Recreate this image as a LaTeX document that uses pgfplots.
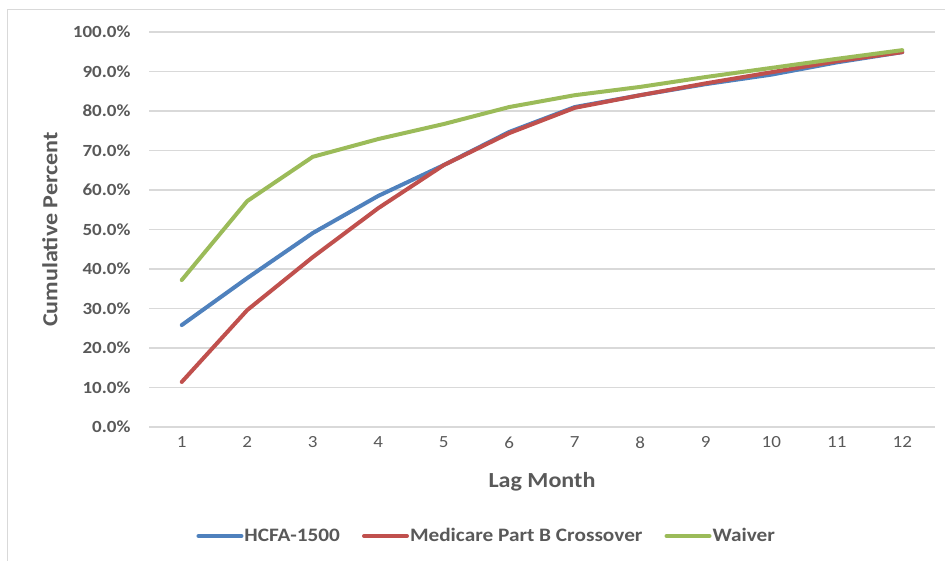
\documentclass[border=0pt]{standalone}
\usepackage{fontspec}
\setmainfont[FakeStretch=1.12]{Carlito}
\usepackage{pgfplots}
\pgfplotsset{compat=1.18}
\definecolor{cblue}{HTML}{4F81BD}
\definecolor{cred}{HTML}{C0504D}
\definecolor{cgreen}{HTML}{9BBB59}
\definecolor{cgrid}{HTML}{D9D9D9}
\definecolor{ctext}{HTML}{595959}
\begin{document}
\begin{tikzpicture}[x=1pt,y=1pt]
\useasboundingbox (0,0) rectangle (945,561);
\draw[cgrid,line width=1pt] (7,0) -- (7,551) -- (945,551);
\begin{axis}[
  at={(149pt,134pt)}, anchor=south west,
  scale only axis, width=786pt, height=395pt,
  xmin=0.5, xmax=12.5, ymin=0, ymax=100,
  xtick={1,...,12}, ytick={0,10,...,100},
  axis line style={draw=none},
  major tick length=0pt,
  ymajorgrids, grid style={cgrid,line width=1.2pt},
  /pgf/number format/assume math mode=true,
  yticklabel={\pgfmathprintnumber[fixed,fixed zerofill,precision=1]{\tick}\%},
  yticklabel style={font=\fontsize{17}{20}\selectfont\bfseries, text=ctext, xshift=-15pt},
  xticklabel style={font=\fontsize{17}{20}\selectfont, text=ctext, yshift=-6pt},
  xlabel={Lag Month}, ylabel={Cumulative Percent},
  label style={font=\fontsize{21.5}{24}\selectfont\bfseries, text=ctext},
  xlabel style={at={(axis description cs:0.5,0)}, anchor=center, yshift=-55pt},
  ylabel style={at={(axis description cs:-0.126,0.5)}, anchor=center},
  legend columns=3,
  legend style={at={(0.429,-0.276)}, anchor=center, draw=none, fill=none,
    font=\fontsize{19}{22}\selectfont\bfseries, text=ctext,
    /tikz/every even column/.append style={column sep=21pt},
    nodes={inner sep=1pt}},
  legend image code/.code={\draw[#1,line width=4pt,line cap=round] (0pt,0pt) -- (43pt,0pt);},
  every axis plot/.append style={line width=4pt, line join=round, line cap=round, mark=none},
]
\addplot[cblue] coordinates {(1,25.8) (2,37.7) (3,49.1) (4,58.5) (5,66.3) (6,74.7) (7,81.0) (8,84.0) (9,86.8) (10,89.2) (11,92.3) (12,94.9)};
\addlegendentry{HCFA-1500}
\addplot[cred] coordinates {(1,11.4) (2,29.6) (3,43.0) (4,55.4) (5,66.3) (6,74.4) (7,80.8) (8,84.0) (9,87.0) (10,89.8) (11,92.6) (12,94.9)};
\addlegendentry{Medicare Part B Crossover}
\addplot[cgreen] coordinates {(1,37.2) (2,57.2) (3,68.4) (4,72.9) (5,76.7) (6,81.0) (7,84.0) (8,86.1) (9,88.6) (10,90.9) (11,93.2) (12,95.4)};
\addlegendentry{Waiver}
\end{axis}
\end{tikzpicture}
\end{document}
